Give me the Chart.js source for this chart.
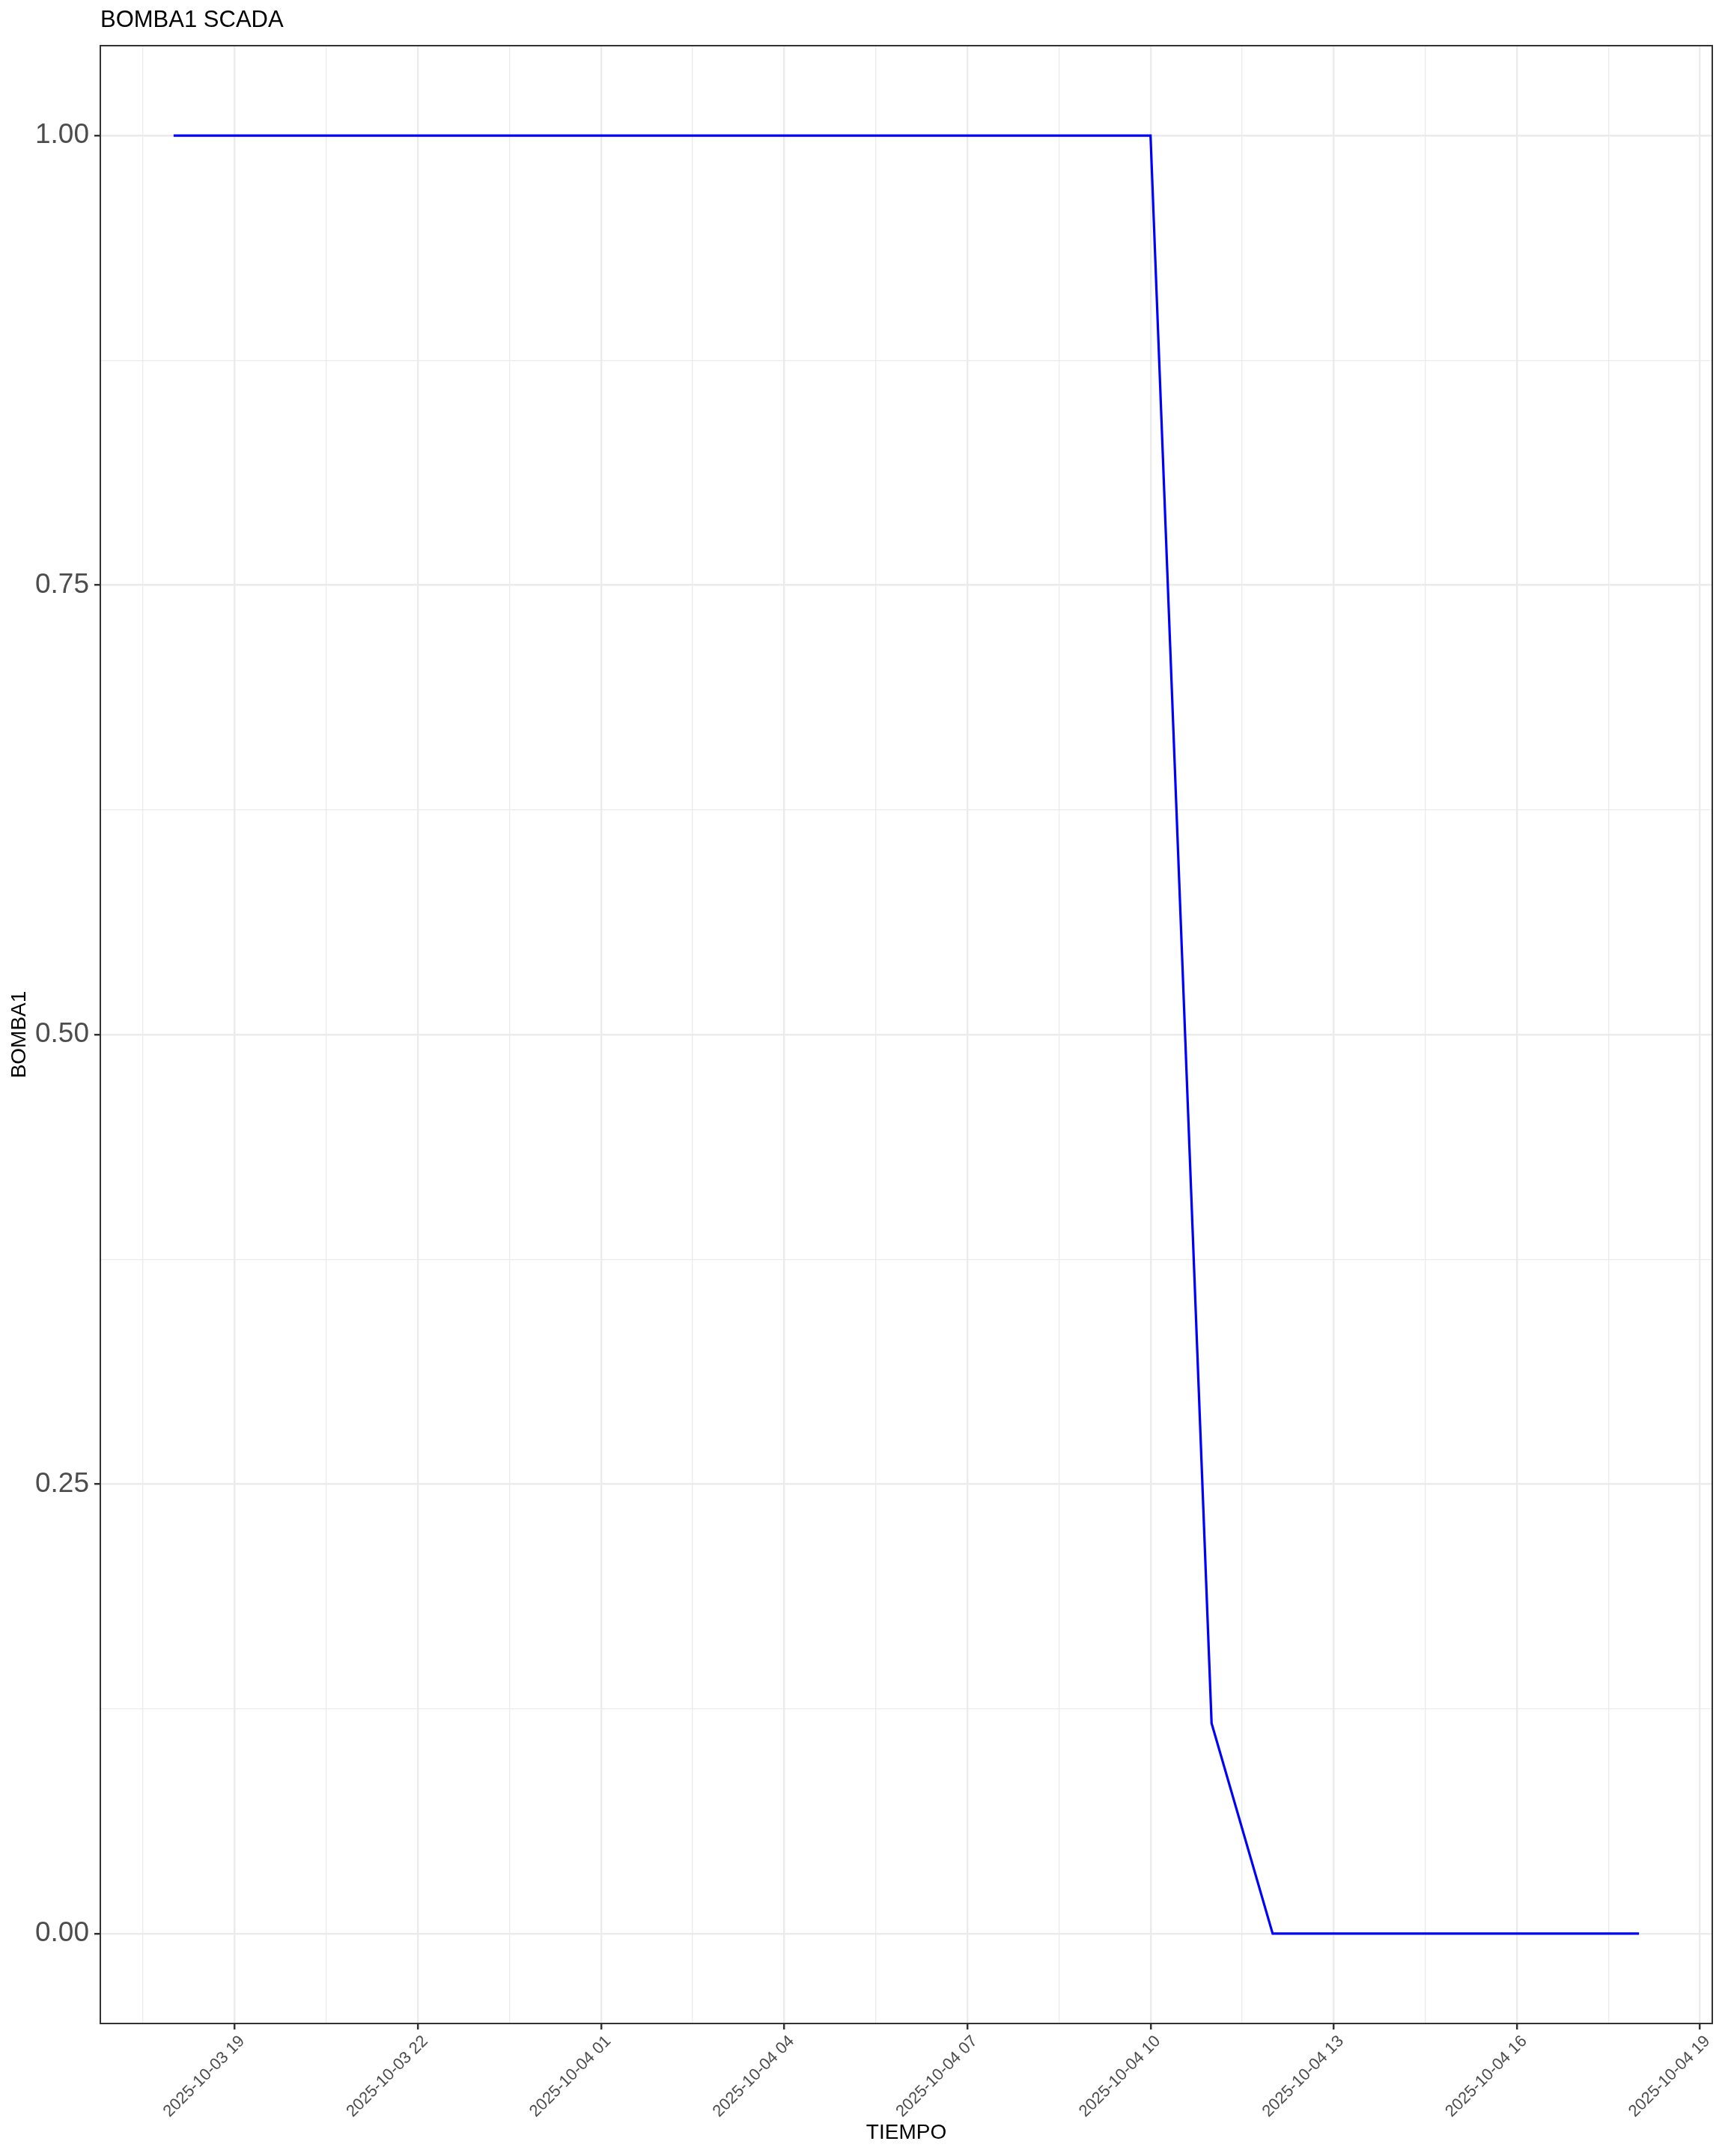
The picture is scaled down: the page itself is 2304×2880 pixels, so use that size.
<!DOCTYPE html>
<html>
<head>
<meta charset="utf-8">
<script src="https://cdn.jsdelivr.net/npm/chart.js@4.4.1/dist/chart.umd.min.js"></script>
<style>
  html, body { margin: 0; padding: 0; background: #ffffff; }
  #wrap { width: 2304px; height: 2880px; }
</style>
</head>
<body>
<div id="wrap"><canvas id="c" width="2304" height="2880"></canvas></div>
<script>
// ---- data ----
const timeLabels = [
  "2025-10-03 18:00","2025-10-03 19:00","2025-10-03 20:00","2025-10-03 21:00",
  "2025-10-03 22:00","2025-10-03 23:00","2025-10-04 00:00","2025-10-04 01:00",
  "2025-10-04 02:00","2025-10-04 03:00","2025-10-04 04:00","2025-10-04 05:00",
  "2025-10-04 06:00","2025-10-04 07:00","2025-10-04 08:00","2025-10-04 09:00",
  "2025-10-04 10:00","2025-10-04 11:00","2025-10-04 12:00","2025-10-04 13:00",
  "2025-10-04 14:00","2025-10-04 15:00","2025-10-04 16:00","2025-10-04 17:00",
  "2025-10-04 18:00"
];
const bomba1 = [
  1, 1, 1, 1,
  1, 1, 1, 1,
  1, 1, 1, 1,
  1, 1, 1, 1,
  1, 0.117, 0, 0,
  0, 0, 0, 0,
  0
];
const xMajorTimes = [
  "2025-10-03 19:00","2025-10-03 22:00","2025-10-04 01:00","2025-10-04 04:00",
  "2025-10-04 07:00","2025-10-04 10:00","2025-10-04 13:00","2025-10-04 16:00",
  "2025-10-04 19:00"
];
const xTickLabels = [
  "2025-10-03 19","2025-10-03 22","2025-10-04 01","2025-10-04 04",
  "2025-10-04 07","2025-10-04 10","2025-10-04 13","2025-10-04 16",
  "2025-10-04 19"
];
const xMinorTimes = [
  "2025-10-03 17:30","2025-10-03 20:30","2025-10-03 23:30","2025-10-04 02:30",
  "2025-10-04 05:30","2025-10-04 08:30","2025-10-04 11:30","2025-10-04 14:30",
  "2025-10-04 17:30"
];
const xRange = ["2025-10-03 16:48", "2025-10-04 19:12"];
const yMajorTicks = [0, 0.25, 0.5, 0.75, 1];
const yTickLabels = ["0.00", "0.25", "0.50", "0.75", "1.00"];
const yMinorTicks = [0.125, 0.375, 0.625, 0.875];
const yRange = [-0.05, 1.05];

// ---- helpers ----
function parseT(s) {
  const [d, t] = s.split(' ');
  const [Y, M, D] = d.split('-').map(Number);
  const [h, m] = t.split(':').map(Number);
  return Date.UTC(Y, M - 1, D, h, m || 0);
}
const xMajorVals = xMajorTimes.map(parseT);
const xMinorVals = xMinorTimes.map(parseT);
const xMinorSet = new Set(xMinorVals);
const yMinorSet = new Set(yMinorTicks);

const points = timeLabels.map((t, i) => ({ x: parseT(t), y: bomba1[i] }));

const GRID = '#EBEBEB';
const INK = '#333333';
const TXT = '#4D4D4D';
const FONT = "'Liberation Sans', Arial, Helvetica, sans-serif";

const panelBorder = {
  id: 'panelBorder',
  afterDraw(chart) {
    const { ctx, chartArea: a } = chart;
    ctx.save();
    ctx.strokeStyle = INK;
    ctx.lineWidth = 2;
    ctx.strokeRect(a.left, a.top, a.right - a.left, a.bottom - a.top);
    ctx.restore();
  }
};

new Chart(document.getElementById('c'), {
  type: 'line',
  data: {
    datasets: [{
      label: 'BOMBA1',
      data: points,
      borderColor: '#0000FF',
      borderWidth: 3.2,
      pointRadius: 0,
      tension: 0,
      fill: false
    }]
  },
  options: {
    responsive: false,
    animation: false,
    devicePixelRatio: 1,
    layout: { padding: { top: 0, right: 17, bottom: 0, left: 0 } },
    plugins: {
      legend: { display: false },
      tooltip: { enabled: false },
      title: {
        display: true,
        text: 'BOMBA1 SCADA',
        align: 'start',
        fullSize: false,
        color: '#000000',
        font: { family: FONT, size: 31, weight: 'normal', lineHeight: 1.2 },
        padding: { top: 8.7, bottom: 15.1 }
      }
    },
    scales: {
      x: {
        type: 'linear',
        min: parseT(xRange[0]),
        max: parseT(xRange[1]),
        afterBuildTicks(scale) {
          const all = xMajorVals.concat(xMinorVals).sort((a, b) => a - b);
          scale.ticks = all.map(v => ({ value: v }));
        },
        afterFit(scale) {
          scale.height = 177;
          scale.paddingLeft = 0;
          scale.paddingRight = 0;
        },
        border: { display: false },
        grid: {
          drawTicks: true,
          tickLength: 8,
          color: GRID,
          lineWidth: ctx => (ctx.tick && xMinorSet.has(ctx.tick.value)) ? 1.3 : 2.4,
          tickColor: ctx => (ctx.tick && xMinorSet.has(ctx.tick.value)) ? 'rgba(0,0,0,0)' : INK,
          tickWidth: 2.5
        },
        ticks: {
          autoSkip: false,
          maxRotation: 45,
          minRotation: 45,
          padding: 3,
          labelOffset: 10,
          color: TXT,
          font: { family: FONT, size: 22 },
          callback: function (value) {
            const i = xMajorVals.indexOf(value);
            return i >= 0 ? xTickLabels[i] : '';
          }
        },
        title: {
          display: true,
          text: 'TIEMPO',
          color: '#000000',
          font: { family: FONT, size: 28, lineHeight: 1.2 },
          padding: { top: 0, bottom: 14 }
        }
      },
      y: {
        type: 'linear',
        min: yRange[0],
        max: yRange[1],
        afterBuildTicks(scale) {
          const all = yMajorTicks.concat(yMinorTicks).sort((a, b) => a - b);
          scale.ticks = all.map(v => ({ value: v }));
        },
        afterFit(scale) {
          scale.width = 134;
          scale.paddingTop = 0;
          scale.paddingBottom = 0;
        },
        border: { display: false },
        grid: {
          drawTicks: true,
          tickLength: 8,
          color: GRID,
          lineWidth: ctx => (ctx.tick && yMinorSet.has(ctx.tick.value)) ? 1.3 : 2.4,
          tickColor: ctx => (ctx.tick && yMinorSet.has(ctx.tick.value)) ? 'rgba(0,0,0,0)' : INK,
          tickWidth: 2.5
        },
        ticks: {
          autoSkip: false,
          padding: 7,
          color: TXT,
          font: { family: FONT, size: 37 },
          callback: function (value) {
            const i = yMajorTicks.indexOf(value);
            return i >= 0 ? yTickLabels[i] : '';
          }
        },
        title: {
          display: true,
          text: 'BOMBA1',
          color: '#000000',
          font: { family: FONT, size: 28, lineHeight: 1.2 },
          padding: { top: 9.5, bottom: 0 }
        }
      }
    }
  },
  plugins: [panelBorder]
});
</script>
</body>
</html>
